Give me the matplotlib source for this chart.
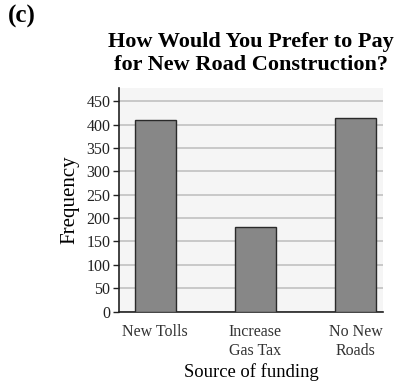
import matplotlib.pyplot as plt

# Survey counts by preferred funding source
sources = ['New Tolls', 'Increase\nGas Tax', 'No New\nRoads']
frequency = [410, 180, 413]
yticks = list(range(0, 451, 50))

plt.rcParams['font.family'] = ['Liberation Serif', 'DejaVu Serif']

fig = plt.figure(figsize=(3.95, 3.81), dpi=100)
ax = fig.add_axes([0.301, 0.182, 0.669, 0.587])
ax.set_facecolor('#f5f5f5')

x = range(len(sources))
ax.bar(x, frequency, width=0.407, color='#878787', edgecolor='#2a2a2a',
       linewidth=1.0, zorder=3)

ax.set_xlim(-0.363, 2.277)
ax.set_ylim(0, 478)
ax.set_yticks(yticks)
ax.set_xticks(list(x))
ax.set_xticklabels(sources, fontsize=11.5, color='#333333', linespacing=1.2)
ax.tick_params(axis='x', length=0, pad=9)
ax.tick_params(axis='y', length=4, width=1, direction='out', labelsize=11.5,
               colors='#222222', pad=2)
ax.grid(axis='y', color='#c8c8c8', linewidth=1.4, zorder=0)

for side in ('top', 'right'):
    ax.spines[side].set_visible(False)
for side in ('left', 'bottom'):
    ax.spines[side].set_linewidth(1.2)
    ax.spines[side].set_color('#222222')

ax.set_ylabel('Frequency', fontsize=15, labelpad=5)
ax.set_xlabel('Source of funding', fontsize=13.4, labelpad=3)

fig.text(0.636, 0.860, 'How Would You Prefer to Pay\nfor New Road Construction?',
         ha='center', va='center', fontsize=16, fontweight='bold',
         linespacing=1.2)
fig.text(0.02, 0.958, '(c)', ha='left', va='center', fontsize=18,
         fontweight='bold')

fig.savefig('out.png', dpi=100)
